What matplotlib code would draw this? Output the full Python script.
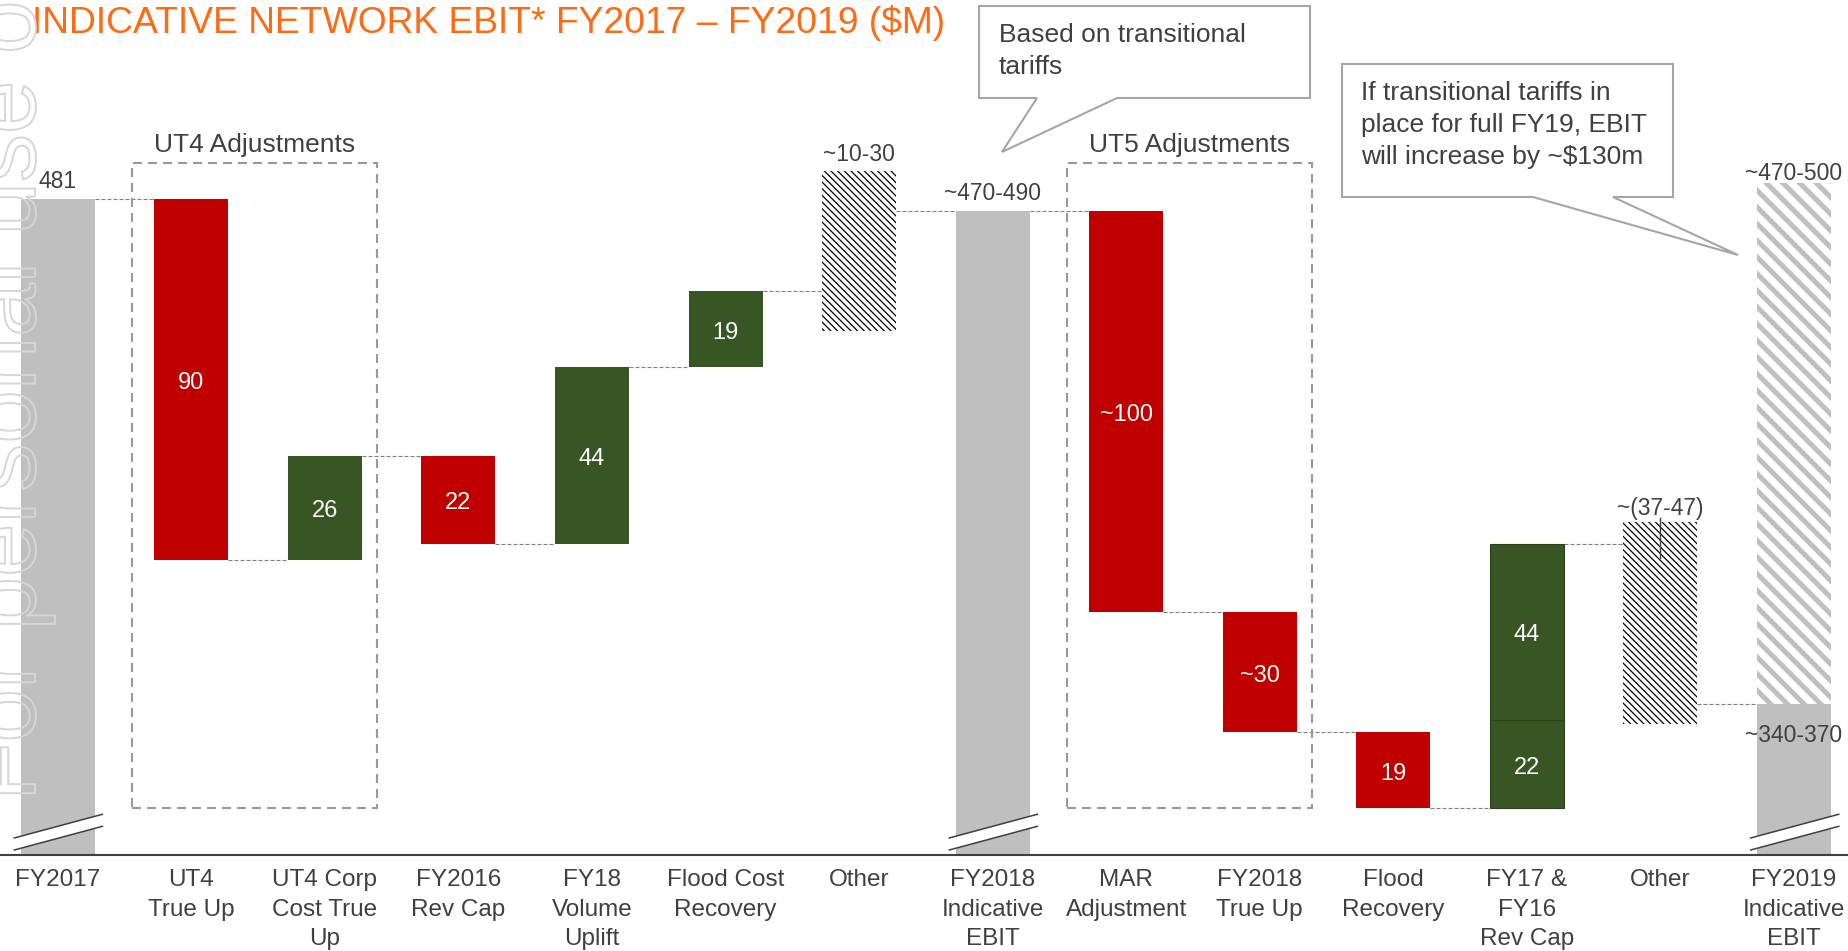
import matplotlib

matplotlib.use("Agg")
import matplotlib.pyplot as plt
from matplotlib.patches import Polygon, PathPatch, Rectangle
from matplotlib.textpath import TextPath
from matplotlib.font_manager import FontProperties
from matplotlib.transforms import Affine2D

plt.rcParams["font.family"] = ["Liberation Sans", "DejaVu Sans"]

W, H, DPI = 1848, 951, 100

# ---------------------------------------------------------------- data
categories = [
    "FY2017", "UT4\nTrue Up", "UT4 Corp\nCost True\nUp", "FY2016\nRev Cap",
    "FY18\nVolume\nUplift", "Flood Cost\nRecovery", "Other",
    "FY2018\nIndicative\nEBIT", "MAR\nAdjustment", "FY2018\nTrue Up",
    "Flood\nRecovery", "FY17 &\nFY16\nRev Cap", "Other",
    "FY2019\nIndicative\nEBIT",
]

fy2017_ebit = 481
ut4_steps = [-90, 26, -22, 44, 19]
ut4_labels = ["90", "26", "22", "44", "19"]
other1_range = [448, 488]
other1_label = "~10-30"
fy2018_ebit = 478
fy2018_label = "~470-490"
ut5_steps = [-100, -30, -19]
ut5_labels = ["~100", "~30", "19"]
revcap_parts = [22, 44]
revcap_labels = ["22", "44"]
other2_range = [350, 400.5]
other2_label = "~(37-47)"
fy2019_ebit = 355
fy2019_upside = 485
fy2019_labels = ["~340-370", "~470-500"]

RED = "#C00000"
GREEN = "#375623"
GREY = "#BFBFBF"
TXT = "#404040"
ORANGE = "#FF6A13"

BW = 0.554
DASH = (0, (3.6, 1.8))
DENSE = "\\" * 5


def fp(x, y):
    """full-size pixel (y down) -> figure fraction"""
    return x / W, 1 - y / H


fig = plt.figure(figsize=(W / DPI, H / DPI), dpi=DPI)
ax = fig.add_axes([0, 1 - 855 / H, 1, 855 / H])
ax.set_xlim(-0.432, 13.404)
ax.set_ylim(317.4, 530.6)


def connect(i, j, level):
    ax.plot([i + BW / 2, j - BW / 2], [level, level], ls=DASH,
            color="#7f7f7f", lw=0.8, zorder=1)


def inner(i, y, s):
    ax.annotate(s, (i, y), xytext=(0, -2.5), textcoords="offset points",
                ha="center", va="center", color="white", fontsize=17,
                zorder=4)


def above(i, y, s, off=8):
    ax.annotate(s, (i, y), xytext=(0, off), textcoords="offset points",
                ha="center", va="baseline", fontsize=16.5, color=TXT)


def hatched(i, lo, hi, pattern, color, hlw):
    with plt.rc_context({"hatch.linewidth": hlw}):
        b = ax.bar(i, hi - lo, bottom=lo, width=BW, facecolor="white",
                   edgecolor=color, hatch=pattern, lw=0, zorder=2)
    for p in b:
        if hasattr(p, "set_hatch_linewidth"):
            p.set_hatch_linewidth(hlw)


# FY2017
ax.bar(0, fy2017_ebit, width=BW, color=GREY, lw=0, zorder=2)
above(0, fy2017_ebit, str(fy2017_ebit))
level = fy2017_ebit
connect(0, 1, level)

# UT4 adjustments
for k, (s, lab) in enumerate(zip(ut4_steps, ut4_labels)):
    i = 1 + k
    ax.bar(i, abs(s), bottom=min(level, level + s), width=BW,
           color=RED if s < 0 else GREEN, lw=0, zorder=2)
    inner(i, level + s / 2, lab)
    level += s
    connect(i, i + 1, level)

# Other (range)
hatched(6, other1_range[0], other1_range[1], DENSE, "black", 0.9)
above(6, other1_range[1], other1_label, off=7)
connect(6, 7, fy2018_ebit)

# FY2018
ax.bar(7, fy2018_ebit, width=BW, color=GREY, lw=0, zorder=2)
above(7, fy2018_ebit, fy2018_label)
level = fy2018_ebit
connect(7, 8, level)

# UT5 adjustments
for k, (s, lab) in enumerate(zip(ut5_steps, ut5_labels)):
    i = 8 + k
    ax.bar(i, abs(s), bottom=min(level, level + s), width=BW,
           color=RED if s < 0 else GREEN, lw=0, zorder=2)
    inner(i, level + s / 2, lab)
    level += s
    connect(i, i + 1, level)

# FY17 & FY16 Rev Cap (stacked)
for s, lab in zip(revcap_parts, revcap_labels):
    ax.bar(11, s, bottom=level, width=BW, color=GREEN, edgecolor="#2b401b",
           lw=0.8, zorder=2)
    inner(11, level + s / 2, lab)
    level += s
connect(11, 12, level)

# Other (range)
hatched(12, other2_range[0], other2_range[1], DENSE, "black", 0.9)
above(12, other2_range[1], other2_label, off=5)
ax.plot([12, 12], [391.5, 401.5], color=TXT, lw=1, zorder=3)
connect(12, 13, fy2019_ebit)

# FY2019
ax.bar(13, fy2019_ebit, width=BW, color=GREY, lw=0, zorder=2)
hatched(13, fy2019_ebit, fy2019_upside, "\\\\", GREY, 3.6)
above(13, fy2019_upside, fy2019_labels[1], off=2)
ax.annotate(fy2019_labels[0], (13, fy2019_ebit), xytext=(0, -27),
            textcoords="offset points", ha="center", va="baseline",
            fontsize=16.5, color=TXT, zorder=4)

# axis breaks on the total bars
for i in (0, 7, 13):
    x0, x1 = i - 0.33, i + 0.34
    ax.add_patch(Polygon([(x0, 318.6), (x1, 324.6), (x1, 327.6), (x0, 321.6)],
                         closed=True, facecolor="white", lw=0, zorder=3))
    for y0 in (318.6, 321.6):
        ax.plot([x0, x1], [y0, y0 + 6], color=TXT, lw=1.1, zorder=3,
                solid_capstyle="butt")

# dashed group boxes
for x0, x1, name in [(0.557, 2.39, "UT4 Adjustments"),
                     (7.555, 9.389, "UT5 Adjustments")]:
    ax.add_patch(Rectangle((x0, 329.1), x1 - x0, 160.9, fill=False,
                           edgecolor="#999999", lw=1.5, ls=(0, (4.3, 2.9)),
                           zorder=1))
    ax.text((x0 + x1) / 2, 494.4, name, ha="center", va="center",
            fontsize=19, color=TXT)

# axes styling
for side in ("top", "left", "right"):
    ax.spines[side].set_visible(False)
ax.spines["bottom"].set_color(TXT)
ax.spines["bottom"].set_linewidth(1.5)
ax.set_yticks([])
ax.set_xticks(range(len(categories)))
ax.set_xticklabels(categories, fontsize=17.5, color=TXT, linespacing=1.45)
ax.tick_params(axis="x", length=0, pad=10)

# title
fig.text(*fp(32, 33), "INDICATIVE NETWORK EBIT* FY2017 \u2013 FY2019 ($M)",
         fontsize=26.8, color=ORANGE, va="baseline", ha="left")

# callouts
callouts = [
    ([(979, 6), (1310, 6), (1310, 98), (1117, 98), (1002, 152), (1037, 98),
      (979, 98)],
     999, [42, 74], ["Based on transitional", "tariffs"]),
    ([(1342, 64), (1673, 64), (1673, 197), (1613, 197), (1738, 255),
      (1533, 197), (1342, 197)],
     1361, [100, 132, 164],
     ["If transitional tariffs in", "place for full FY19, EBIT",
      "will increase by ~$130m"]),
]
for verts, tx, bases, lines in callouts:
    fig.add_artist(Polygon([fp(x, y) for x, y in verts], closed=True,
                           transform=fig.transFigure, facecolor="white",
                           edgecolor="#a6a6a6", lw=1.5, zorder=5))
    for b, s in zip(bases, lines):
        fig.text(*fp(tx, b), s, fontsize=19, color=TXT, va="baseline",
                 ha="left", zorder=6)

# watermark
wm = TextPath((0, 0), "For personal use only", size=96,
              prop=FontProperties(family="Liberation Sans"))
fig.add_artist(PathPatch(wm, transform=Affine2D().rotate_deg(90).translate(35, 150),
                         facecolor="none", edgecolor="#d6d6d6", lw=1.4,
                         zorder=7))

fig.savefig("out.png", dpi=DPI)
